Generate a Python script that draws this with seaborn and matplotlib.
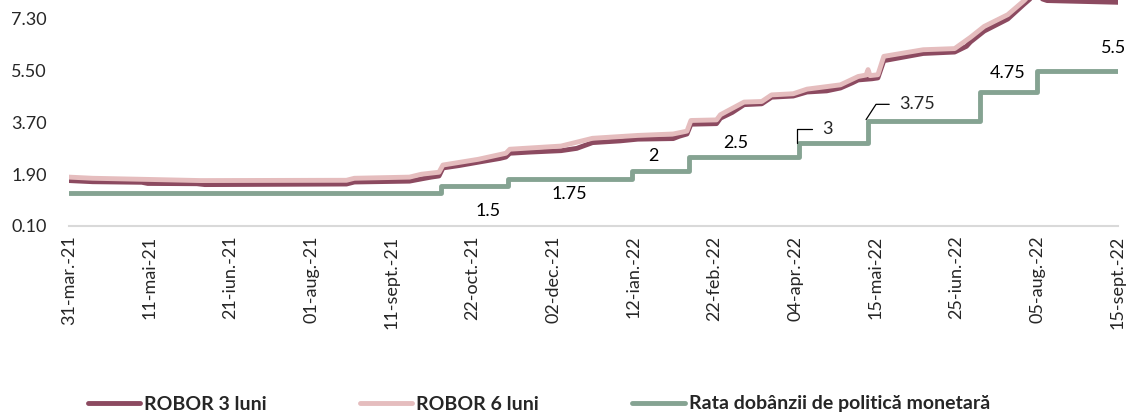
import pandas as pd
import matplotlib.pyplot as plt
import seaborn as sns

sns.set_style("white")
plt.rcParams['font.family'] = ['Lato', 'DejaVu Sans']

# ROBOR 3 luni
robor3_dates = ['2021-03-31', '2021-04-12', '2021-05-07', '2021-05-10', '2021-06-04', '2021-06-08',
                '2021-07-15', '2021-08-19', '2021-08-23', '2021-09-20', '2021-09-27', '2021-10-01',
                '2021-10-05', '2021-10-07', '2021-10-15', '2021-10-25', '2021-11-05', '2021-11-08',
                '2021-11-10', '2021-11-20', '2021-12-06', '2021-12-14', '2021-12-22', '2022-01-05',
                '2022-01-14', '2022-02-01', '2022-02-04', '2022-02-08', '2022-02-10', '2022-02-23',
                '2022-02-25', '2022-03-03', '2022-03-09', '2022-03-18', '2022-03-23', '2022-04-03',
                '2022-04-10', '2022-04-20', '2022-04-27', '2022-05-03', '2022-05-06', '2022-05-13',
                '2022-05-16', '2022-05-19', '2022-05-27', '2022-06-08', '2022-06-24', '2022-06-30',
                '2022-07-02', '2022-07-09', '2022-07-21', '2022-07-29', '2022-08-03', '2022-08-10',
                '2022-09-15']
robor3_values = [1.68, 1.64, 1.62, 1.58, 1.57, 1.54,
                 1.55, 1.56, 1.63, 1.66, 1.75, 1.80,
                 1.84, 2.12, 2.20, 2.32, 2.45, 2.50,
                 2.63, 2.67, 2.72, 2.80, 3.00, 3.06,
                 3.12, 3.14, 3.22, 3.30, 3.64, 3.66,
                 3.85, 4.05, 4.32, 4.35, 4.58, 4.62,
                 4.76, 4.80, 4.90, 5.08, 5.18, 5.22,
                 5.25, 5.85, 5.95, 6.10, 6.15, 6.35,
                 6.50, 6.88, 7.30, 7.80, 8.10, 7.94,
                 7.88]

# ROBOR 6 luni
robor6_dates = ['2021-03-31', '2021-04-12', '2021-05-10', '2021-06-06', '2021-08-19', '2021-08-23',
                '2021-09-20', '2021-09-26', '2021-10-05', '2021-10-07', '2021-10-25', '2021-11-08',
                '2021-11-10', '2021-12-06', '2021-12-22', '2022-01-14', '2022-02-01', '2022-02-08',
                '2022-02-10', '2022-02-23', '2022-02-25', '2022-03-09', '2022-03-18', '2022-03-23',
                '2022-04-03', '2022-04-10', '2022-04-27', '2022-05-06', '2022-05-10', '2022-05-11',
                '2022-05-12', '2022-05-16', '2022-05-19', '2022-06-08', '2022-06-24', '2022-07-02',
                '2022-07-09', '2022-07-21', '2022-07-29', '2022-08-03', '2022-08-10', '2022-09-15']
robor6_values = [1.80, 1.76, 1.72, 1.68, 1.69, 1.76,
                 1.80, 1.90, 1.97, 2.22, 2.42, 2.63,
                 2.77, 2.88, 3.15, 3.25, 3.30, 3.40,
                 3.77, 3.79, 3.97, 4.41, 4.43, 4.66,
                 4.70, 4.86, 5.01, 5.30, 5.35, 5.54,
                 5.33, 5.36, 6.00, 6.23, 6.27, 6.66,
                 7.04, 7.45, 7.92, 8.25, 8.12, 8.08]

# Rata dobanzii de politica monetara (step changes)
rate_dates = ['2021-03-31', '2021-10-06', '2021-11-09', '2022-01-11', '2022-02-09',
              '2022-04-06', '2022-05-11', '2022-07-07', '2022-08-05', '2022-09-15']
rate_values = [1.25, 1.5, 1.75, 2.0, 2.5, 3.0, 3.75, 4.75, 5.5, 5.5]

# data labels for the policy rate
label_texts = ['1.5', '1.75', '2', '2.5', '4.75', '5.5']
label_dates = ['2021-10-30', '2021-12-10', '2022-01-22', '2022-03-05', '2022-07-21', '2022-09-13']
label_y = [0.62, 1.21, 2.53, 2.99, 5.42, 6.29]

tick_labels = ['31-mar.-21', '11-mai-21', '21-iun.-21', '01-aug.-21', '11-sept.-21', '22-oct.-21',
               '02-dec.-21', '12-ian.-22', '22-feb.-22', '04-apr.-22', '15-mai-22', '25-iun.-22',
               '05-aug.-22', '15-sept.-22']
y_ticks = [0.10, 1.90, 3.70, 5.50, 7.30]

c_r3 = '#8C4A60'
c_r6 = '#E5BDBE'
c_rate = '#85A392'

df3 = pd.DataFrame({'date': pd.to_datetime(robor3_dates), 'val': robor3_values})
df6 = pd.DataFrame({'date': pd.to_datetime(robor6_dates), 'val': robor6_values})
dfr = pd.DataFrame({'date': pd.to_datetime(rate_dates), 'val': rate_values})

fig = plt.figure(figsize=(11.28, 4.17), dpi=100)
ax = fig.add_axes([69 / 1128, 191 / 417, (1118 - 69) / 1128, 226 / 417])

sns.lineplot(data=df3, x='date', y='val', ax=ax, color=c_r3, lw=2.4, label='ROBOR 3 luni')
sns.lineplot(data=df6, x='date', y='val', ax=ax, color=c_r6, lw=2.4, label='ROBOR 6 luni')
sns.lineplot(data=dfr, x='date', y='val', ax=ax, color=c_rate, lw=2.4, drawstyle='steps-post',
             label='Rata dobânzii de politică monetară')

for t, d, y in zip(label_texts, label_dates, label_y):
    ax.text(pd.Timestamp(d), y, t, ha='center', va='center', fontsize=13, color='black')

# labels with leader lines
ax.annotate('3', xy=(pd.Timestamp('2022-04-05'), 3.0), xytext=(18, 10), textcoords='offset points',
            ha='left', va='center', fontsize=13,
            arrowprops=dict(arrowstyle='-', color='black', lw=0.9, relpos=(0, 0.5), shrinkA=5, shrinkB=0,
                            connectionstyle='angle,angleA=0,angleB=90,rad=0'))
ax.annotate('3.75', xy=(pd.Timestamp('2022-05-10'), 3.80), xytext=(24, 11), textcoords='offset points',
            ha='left', va='center', fontsize=13,
            arrowprops=dict(arrowstyle='-', color='black', lw=0.9, relpos=(0, 0.5), shrinkA=5, shrinkB=0,
                            connectionstyle='angle,angleA=0,angleB=57,rad=0'))

ticks = pd.date_range(rate_dates[0], periods=len(tick_labels), freq='41D')
ax.set_xlim(pd.Timestamp(rate_dates[0]), pd.Timestamp(rate_dates[-1]))
ax.set_xticks(ticks)
ax.set_xticklabels(tick_labels, rotation=90, fontsize=13)
ax.set_ylim(0.10, 7.96)
ax.set_yticks(y_ticks)
ax.set_yticklabels([f'{v:.2f}' for v in y_ticks], fontsize=13)
ax.set_xlabel('')
ax.set_ylabel('')
ax.tick_params(axis='y', length=0, pad=16)
ax.tick_params(axis='x', length=5, width=1.2, color='#D9D9D9', pad=2)
for s in ['top', 'right', 'left']:
    ax.spines[s].set_visible(False)
ax.spines['bottom'].set_color('#D9D9D9')
ax.spines['bottom'].set_linewidth(1.5)

ax.get_legend().remove()
handles, labels = ax.get_legend_handles_labels()
for h in handles:
    h.set_linewidth(3.5)
fig.legend(handles, labels, loc='center left', bbox_to_anchor=(70 / 1128, 13 / 417), ncol=3,
           frameon=False, handlelength=2.7, handletextpad=0.2, columnspacing=4.8,
           prop={'weight': 'bold', 'size': 14})

fig.savefig('out.png', dpi=100)
